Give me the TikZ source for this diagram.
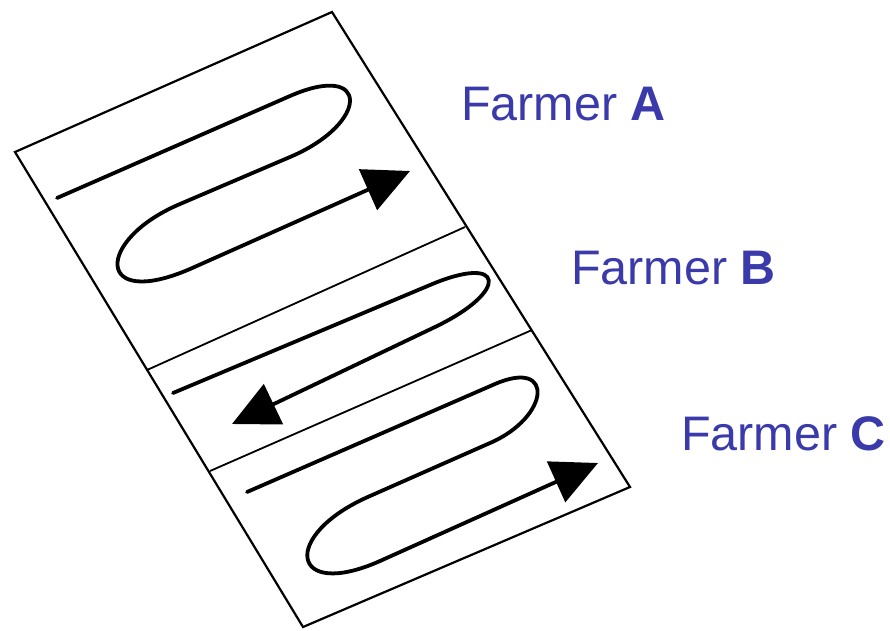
\documentclass[tikz,border=0pt]{standalone}
\usepackage{fontspec}
\setmainfont{Liberation Sans}
\usetikzlibrary{arrows.meta}
\definecolor{farmerblue}{RGB}{58,58,170}
\tikzset{
  field/.style={draw=black, line width=2.2pt, line join=miter},
  divider/.style={draw=black, line width=1.8pt},
  track/.style={draw=black, line width=3.8pt, line cap=round, line join=round},
  trackarrow/.style={track, -{Triangle[length=46pt,width=44pt]}},
  farmerlabel/.style={anchor=base west, inner sep=0pt, text=farmerblue,
    font=\fontsize{48.5}{58}\selectfont}
}
\begin{document}
\begin{tikzpicture}[x=1pt,y=-1pt]
\useasboundingbox (0,0) rectangle (890,630);
% field outline (parallelogram)
\coordinate (TL) at (15,152);
\coordinate (TR) at (332,12);
\coordinate (BR) at (630,487);
\coordinate (BL) at (303,627);
\draw[field] (TL) -- (TR) -- (BR) -- (BL) -- cycle;
% dividers
\coordinate (d1l) at (147,370);
\coordinate (d1r) at (465,227);
\coordinate (d2l) at (210,471);
\coordinate (d2r) at (532,330);
\draw[divider] (d1l) -- (d1r);
\draw[divider] (d2l) -- (d2r);
% Farmer A track
\coordinate (a0) at (57,198);
\coordinate (a1) at (290,96);
\coordinate (a2) at (290,157);
\coordinate (a3) at (180,204);
\coordinate (a4) at (190,269);
\coordinate (atip) at (410,171);
\draw[track] (a0) -- (a1) .. controls (370,61) and (370,123) .. (a2) -- (a3)
  .. controls (95,240) and (95,310) .. (a4);
\draw[trackarrow] (a4) -- (atip);
% Farmer B track
\coordinate (b0) at (173,393);
\coordinate (b1) at (430,285);
\coordinate (b2) at (435,327);
\coordinate (btip) at (232,424);
\draw[track] (b0) -- (b1) .. controls (505,253) and (510,291) .. (b2);
\draw[trackarrow] (b2) -- (btip);
% Farmer C track
\coordinate (c0) at (247,492);
\coordinate (c1) at (495,384);
\coordinate (c2) at (490,443);
\coordinate (c3) at (370,496);
\coordinate (c4) at (380,561);
\coordinate (ctip) at (598,463);
\draw[track] (c0) -- (c1) .. controls (555,358) and (550,417) .. (c2) -- (c3)
  .. controls (280,535) and (290,601) .. (c4);
\draw[trackarrow] (c4) -- (ctip);
% labels
\node[farmerlabel] (labA) at (461,120) {Farmer \textbf{A}};
\node[farmerlabel] (labB) at (571,284) {Farmer \textbf{B}};
\node[farmerlabel] (labC) at (681,450) {Farmer \textbf{C}};
\end{tikzpicture}
\end{document}
